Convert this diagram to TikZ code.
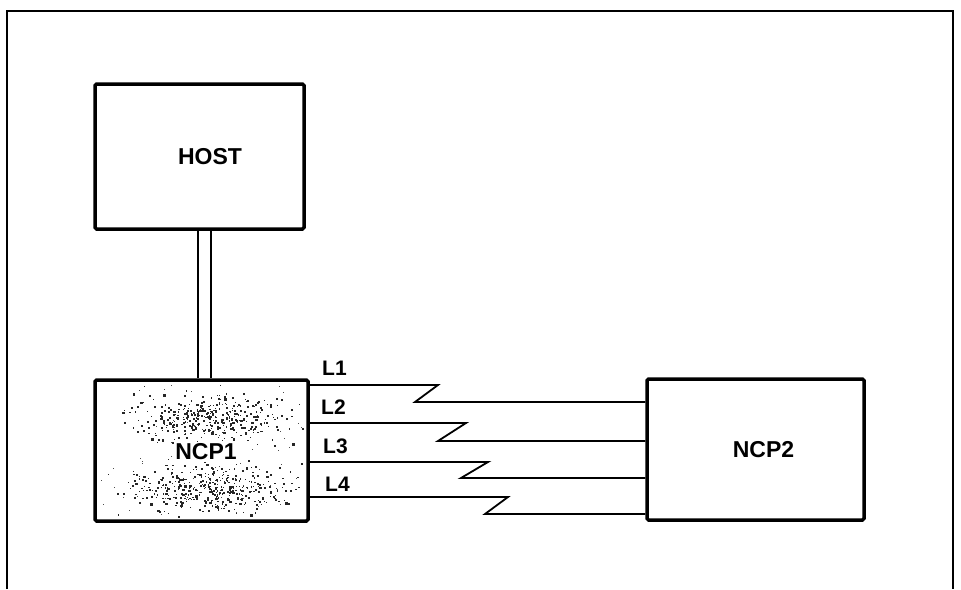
\documentclass[tikz,border=0pt]{standalone}
\usepackage{fontspec}
\setmainfont{Liberation Sans}
\begin{document}
\begin{tikzpicture}[x=1pt,y=-1pt,
  box/.style={draw,line width=3.5pt,rounded corners=1.5pt,inner sep=0pt},
  lbl/.style={font=\fontsize{21}{25}\selectfont\bfseries},
  blbl/.style={font=\fontsize{23}{27}\selectfont\bfseries},
  wire/.style={line width=1.8pt},
  frame/.style={line width=1.6pt}]
\useasboundingbox (0,0) rectangle (961,589);
% outer frame
\draw[frame] (7,589) -- (7,11) -- (953,11) -- (953,589);
% boxes
\node[box,minimum width=209pt,minimum height=145pt] (host) at (199.5,156.5) {};
\node[box,minimum width=213pt,minimum height=141pt] (ncp1) at (201.5,450.5) {};
\node[box,minimum width=217pt,minimum height=141pt] (ncp2) at (755.5,449.5) {};
% speckle on NCP1
\pgfmathsetseed{7}
\begin{scope}
\clip (99,384) rectangle (304,517);
\foreach \i in {1,...,380}{
  \pgfmathsetmacro{\dx}{210+120*(rand+rand+rand)/3}
  \pgfmathsetmacro{\dy}{417+36*(rand+rand+rand)/3}
  \pgfmathsetmacro{\s}{0.8+1.6*abs(rand)}
  \fill[black!85] (\dx,\dy) rectangle ++(\s,\s);
}
\foreach \i in {1,...,420}{
  \pgfmathsetmacro{\dx}{212+115*(rand+rand+rand)/3}
  \pgfmathsetmacro{\dy}{489+36*(rand+rand+rand)/3}
  \pgfmathsetmacro{\s}{0.8+1.6*abs(rand)}
  \fill[black!85] (\dx,\dy) rectangle ++(\s,\s);
}
\foreach \i in {1,...,60}{
  \pgfmathsetmacro{\dx}{201+100*rand}
  \pgfmathsetmacro{\dy}{450+65*rand}
  \fill[black!70] (\dx,\dy) rectangle ++(1,1);
}
\end{scope}
% texts
\node[blbl] (thost) at (210,156.5) {HOST};
\node[blbl,fill=white,inner sep=1.5pt] (tncp1) at (206,452) {NCP1};
\node[blbl] (tncp2) at (763.5,450) {NCP2};
% double link host - ncp1
\draw[line width=1.6pt] (host.south -| 198,0) -- (ncp1.north -| 198,0);
\draw[line width=1.6pt] (host.south -| 211,0) -- (ncp1.north -| 211,0);
% lines
\draw[wire] (ncp1.east |- 0,385) -- (438,385) -- (415,402) -- (ncp2.west |- 0,402);
\draw[wire] (ncp1.east |- 0,423) -- (466,423) -- (438,441) -- (ncp2.west |- 0,441);
\draw[wire] (ncp1.east |- 0,462) -- (488,462) -- (461,478) -- (ncp2.west |- 0,478);
\draw[wire] (ncp1.east |- 0,497) -- (508,497) -- (485,514) -- (ncp2.west |- 0,514);
% labels
\node[lbl,anchor=west,inner sep=0pt] (l1) at (322,368) {L1};
\node[lbl,anchor=west,inner sep=0pt] (l2) at (321,407) {L2};
\node[lbl,anchor=west,inner sep=0pt] (l3) at (323,446) {L3};
\node[lbl,anchor=west,inner sep=0pt] (l4) at (325,484) {L4};
\end{tikzpicture}
\end{document}
